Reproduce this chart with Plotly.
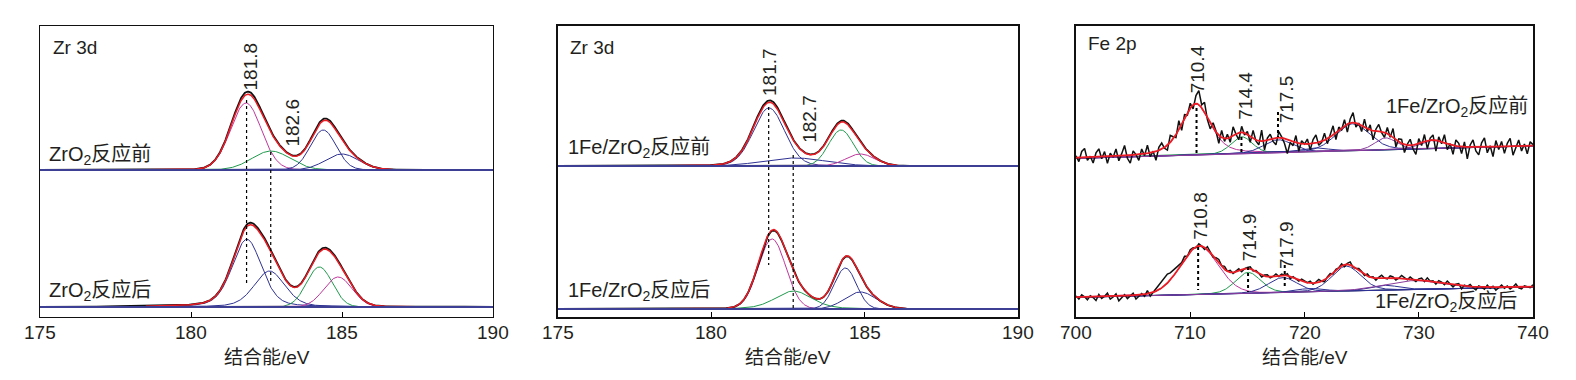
import numpy as np
import plotly.graph_objects as go

# ---------------- data ----------------
# Panel 1 : ZrO2, Zr 3d   (y in plot units, 0..291)
p1a_base = 147                       # 反应前
p1a_c = [181.82, 182.65, 184.38, 185.0]
p1a_h = [67, 19, 40, 16]
p1a_w = [1.2, 1.5, 1.0, 1.3]
p1a_m = [0.05, 0.05, 0.05, 0.05]
p1a_k = 1.035

p1b_base = 10                        # 反应后
p1b_c = [181.85, 182.6, 184.25, 184.87]
p1b_h = [67.7, 36, 40, 30]
p1b_w = [1.15, 1.2, 1.0, 1.1]
p1b_m = [0.3, 0.3, 0.0, 0.0]
p1b_k = 1.025

# Panel 2 : 1Fe/ZrO2, Zr 3d
p2a_base = 151
p2a_c = [181.88, 182.72, 184.23, 184.86]
p2a_h = [58, 8, 36, 12]
p2a_w = [1.2, 2.4, 0.95, 1.1]
p2a_m = [0.1, 0.0, 0.0, 0.0]
p2a_k = 1.03

p2b_base = 8
p2b_c = [181.98, 182.68, 184.37, 184.86]
p2b_h = [70, 18, 41, 17]
p2b_w = [1.05, 1.4, 0.85, 1.2]
p2b_m = [0.0, 0.3, 0.0, 0.0]
p2b_k = 0.99

# Panel 3 : 1Fe/ZrO2, Fe 2p
p3a_b0, p3a_b1 = 158.7, 0.31
p3a_c = [710.5, 714.5, 717.7, 720.8, 724.2, 727.1, 731.2]
p3a_h = [51, 17, 13, 4, 27, 12, 8]
p3a_w = [3.0, 2.2, 3.0, 3.0, 3.5, 2.2, 2.6]
p3a_m = [0.5, 0.2, 0.2, 0.2, 0.2, 0.2, 0.2]
p3a_resid = [2, -4, 6, 9, -3, 1, -6, 4, 8, -2,
             5, -7, 3, -1, 7, -5, 2, 10, -3, -8,
             4, 0, -6, 5, -2, 8, -4, 1, -9, 3,
             6, -1, -5, 7, 2, -3, 9, -6, 4, -2,
             5,
             -4, 8, 14, 3, 10, -2, -6, 5, 1, -8,
             7, -3, 4, -5, 9, 0, -7, 6, -2, 3,
             -6, 8, -1, -4, 11, -9, 2, 5, -3, -7,
             6, 1, -5, -14, -2, -4, 7, -8, 3, 0,
             5, -6, 4, 8, -3, -1, 7, -5, 2, 9,
             -7, 3, -2, 6, -8, 4, 10, -4, 1, -6,
             8, -3, 5, -9, 2, 7, -1, -5, 6, -2,
             9, -7, 3, 4, -8, 1, 6, -4, -10, 5,
             -3, 7, -8, 2, 5, -11, 4, -2, 8, -6,
             1, -9, 6, 3, -7, 5, -12, 2, 7, -4,
             -8, 4, 9, -6, 1, -10, 6, -3, 5, -7,
             3, 8, -9, -2, 6, -5, 2, -8, 4, 1]

p3b_b0, p3b_b1 = 19.7, 0.26
p3b_c = [710.8, 715.06, 718.1, 720.5, 723.66, 727.0, 729.5]
p3b_h = [48, 21, 15, 3.5, 25, 5, 9]
p3b_w = [3.9, 2.6, 3.0, 3.0, 3.0, 3.0, 6.0]
p3b_m = [0.1, 0.2, 0.2, 0.2, 0.2, 0.2, 0.2]
p3b_resid = [1, -2, 2, 0, -3, 1, -1, -4, 2, -2,
             0, 3, -3, -1, 2, -5, -2, 1, -3, 0,
             2, -4, -1, 1, -2, 3, -3, 0, 2, 4,
             6, 8, 9, 7, 6, 5, 3, 1, 3, -1,
             2,
             1, -1, 2, 0, -2, 3, 1, -1, 2, 4,
             1, 3, 0, 2, -1, 1, 2, -2, 0, 1,
             2, -1, 1, 0, -2, 1, 2, -1, 0, 2,
             -1, 1, 0, 2, -2, 1, 0, -1, 2, 1,
             0, 2, -1, 1, 3, 0, -2, 1, 2, -1,
             1, 0, 2, -2, 1, 3, -1, 0, 2, 1,
             -1, 2, 0, 1, -2, 1, 3, 0, -1, 2,
             1, -2, 0, 3, 1, -1, 2, 0, -2, 1,
             2, -1, 3, 0, 1, -2, 2, 1, -1, 3,
             0, -2, 1, 2, -3, 1, 0, 2, -1, -3,
             1, 0, -2, 2, -1, 1, -3, 0, 2, -1,
             1, -2, 0, 3, -1, -2, 1, 0, -1, 2]

# marker lines: x, y-from, y-to ; labels
p1_lines_x = [181.84, 182.64]
p1_lines_y0 = [217, 165]
p1_lines_y1 = [32, 34]
p1_labels = ["181.8", "182.6"]

p2_lines_x = [181.87, 182.67]
p2_lines_y0 = [210, 162]
p2_lines_y1 = [52, 8]
p2_labels = ["181.7", "182.7"]

p3_lines_x = [710.55, 714.48, 717.68, 710.69, 715.06, 718.27]
p3_lines_y0 = [209, 180, 205, 70, 50, 52]
p3_lines_y1 = [162, 165, 180, 27, 25, 29]
p3_labels = ["710.4", "714.4", "717.5", "710.8", "714.9", "717.9"]

zr_ticks = [175, 180, 185, 190]
fe_ticks = [700, 710, 720, 730, 740]

# ---------------- styles ----------------
RED = "#ec1c24"
MAG = "#c0369c"
GRN = "#1f9a4c"
BLU = "#2e3192"
PUR = "#8a3c9c"
TXT = "#231f20"
FONT = "Liberation Sans, Arial, Noto Sans CJK SC, sans-serif"
FS = 19
FS_LAB = 20


def pv(x, c, h, w, m):
    t = ((x - c) / w) ** 2
    return h * (m / (1 + 4 * t) + (1 - m) * np.exp(-4 * np.log(2) * t))


fig = go.Figure()


def add_line(x, y, color, width, ax, dash=None):
    fig.add_trace(go.Scatter(x=x, y=y, mode="lines",
                             line=dict(color=color, width=width, dash=dash),
                             xaxis="x" + ax, yaxis="y" + ax,
                             hoverinfo="skip", showlegend=False))


def zr_spectrum(ax, base, cs, hs, ws, ms, colors, k):
    x = np.arange(175.0, 190.001, 0.02)
    comps = [pv(x, c, h, w, m) for c, h, w, m in zip(cs, hs, ws, ms)]
    total = np.sum(comps, axis=0)
    for comp, col in zip(comps, colors):
        add_line(x, base + comp, col, 1.0, ax)
    add_line(x, base + k * total, "#111111", 1.8, ax)
    sel = (x > 178.5) & (x < 188.5)
    add_line(x[sel], (base + total)[sel], RED, 1.5, ax)
    add_line([175, 190], [base, base], "#3d3f95", 2.2, ax)


def fe_spectrum(ax, b0, b1, cs, hs, ws, ms, colors, resid):
    x = np.arange(700.0, 740.001, 0.05)
    bg = b0 + b1 * (x - 700)
    comps = [pv(x, c, h, w, m) for c, h, w, m in zip(cs, hs, ws, ms)]
    total = np.sum(comps, axis=0)
    for comp, col in zip(comps, colors):
        add_line(x, bg + comp, col, 1.0, ax)
    xd = 700 + 0.25 * np.arange(len(resid))
    bgd = b0 + b1 * (xd - 700)
    fd = bgd + np.sum([pv(xd, c, h, w, m) for c, h, w, m in zip(cs, hs, ws, ms)], axis=0)
    add_line(xd, fd + np.array(resid), "#111111", 1.5, ax)
    add_line(x, bg + total, RED, 1.8, ax)


zr_spectrum("", p1a_base, p1a_c, p1a_h, p1a_w, p1a_m, [MAG, GRN, BLU, BLU], p1a_k)
zr_spectrum("", p1b_base, p1b_c, p1b_h, p1b_w, p1b_m, [BLU, BLU, GRN, MAG], p1b_k)
zr_spectrum("2", p2a_base, p2a_c, p2a_h, p2a_w, p2a_m, [BLU, BLU, GRN, MAG], p2a_k)
zr_spectrum("2", p2b_base, p2b_c, p2b_h, p2b_w, p2b_m, [MAG, GRN, BLU, BLU], p2b_k)
fe_spectrum("3", p3a_b0, p3a_b1, p3a_c, p3a_h, p3a_w, p3a_m,
            [MAG, GRN, BLU, BLU, BLU, PUR, PUR], p3a_resid)
fe_spectrum("3", p3b_b0, p3b_b1, p3b_c, p3b_h, p3b_w, p3b_m,
            [MAG, GRN, BLU, BLU, BLU, BLU, PUR], p3b_resid)

for ax, xs, y0s, y1s, w in [("", p1_lines_x, p1_lines_y0, p1_lines_y1, 1.2),
                           ("2", p2_lines_x, p2_lines_y0, p2_lines_y1, 1.2),
                           ("3", p3_lines_x, p3_lines_y0, p3_lines_y1, 2.0)]:
    for xv, a, b in zip(xs, y0s, y1s):
        add_line([xv, xv], [a, b], "#000000", w, ax, dash="dot")

# ---------------- layout ----------------
W, H = 1576, 380
ydom = [(H - 317) / H, (H - 26) / H]
panels = [("", [40, 493], [175, 190], zr_ticks, 1.2),
          ("2", [558, 1018], [175, 190], zr_ticks, 2),
          ("3", [1076, 1533], [700, 740], fe_ticks, 2)]
ann = []
for ax, (l, r), rng, tv, lw in panels:
    fig.layout["xaxis" + ax] = dict(
        domain=[l / W, r / W], range=rng, tickvals=tv, ticks="inside",
        ticklen=5, tickwidth=1, tickcolor="#000", showline=True, mirror=True,
        linecolor="#111", linewidth=lw, showgrid=False, zeroline=False,
        showticklabels=False, anchor="y" + ax, automargin=False)
    fig.layout["yaxis" + ax] = dict(
        domain=ydom, range=[0, 291], showticklabels=False, ticks="",
        showline=True, mirror=True, linecolor="#111", linewidth=lw,
        showgrid=False, zeroline=False, anchor="x" + ax, automargin=False)
    # tick labels
    for v in tv:
        ann.append(dict(x=v, y=(H - 332) / H, xref="x" + ax, yref="paper",
                        text=str(v), showarrow=False, xanchor="center",
                        yanchor="middle",
                        font=dict(family=FONT, size=FS, color=TXT)))
    # axis title
    ann.append(dict(x=(l + r) / 2 / W, y=(H - 357) / H, xref="paper", yref="paper",
                    text="结合能/eV", showarrow=False, xanchor="center",
                    yanchor="middle", font=dict(family=FONT, size=FS, color=TXT)))


def txt(ax, x, y, s, xanchor="left", angle=0, size=FS):
    ann.append(dict(x=x, y=y, xref="x" + ax, yref="y" + ax, text=s,
                    showarrow=False, xanchor=xanchor, yanchor="middle",
                    textangle=angle, font=dict(family=FONT, size=size, color=TXT)))


txt("", 175.36, 270, "Zr 3d")
txt("", 175.22, 162, "ZrO<sub>2</sub>反应前", size=FS_LAB)
txt("", 175.22, 26, "ZrO<sub>2</sub>反应后", size=FS_LAB)
txt("", 181.97, 251, p1_labels[0], "center", -90)
txt("", 183.33, 194, p1_labels[1], "center", -90)

txt("2", 175.32, 270, "Zr 3d")
txt("2", 175.26, 169, "1Fe/ZrO<sub>2</sub>反应前", size=FS_LAB)
txt("2", 175.26, 26, "1Fe/ZrO<sub>2</sub>反应后", size=FS_LAB)
txt("2", 181.88, 245, p2_labels[0], "center", -90)
txt("2", 183.18, 198, p2_labels[1], "center", -90)

txt("3", 700.9, 274, "Fe 2p")
txt("3", 739.75, 210, "1Fe/ZrO<sub>2</sub>反应前", "right", size=FS_LAB)
txt("3", 738.8, 15, "1Fe/ZrO<sub>2</sub>反应后", "right", size=FS_LAB)
txt("3", 710.62, 248, p3_labels[0], "center", -90)
txt("3", 714.77, 221, p3_labels[1], "center", -90)
txt("3", 718.41, 218, p3_labels[2], "center", -90)
txt("3", 710.84, 101, p3_labels[3], "center", -90)
txt("3", 715.17, 80, p3_labels[4], "center", -90)
txt("3", 718.38, 72, p3_labels[5], "center", -90)

fig.update_layout(width=W, height=H, margin=dict(l=0, r=0, t=0, b=0, autoexpand=False),
                  paper_bgcolor="white", plot_bgcolor="white",
                  annotations=ann, showlegend=False)

fig.write_html("out.html", config={"displayModeBar": False},
               post_script="document.body.style.margin='0';document.body.style.padding='0';")
